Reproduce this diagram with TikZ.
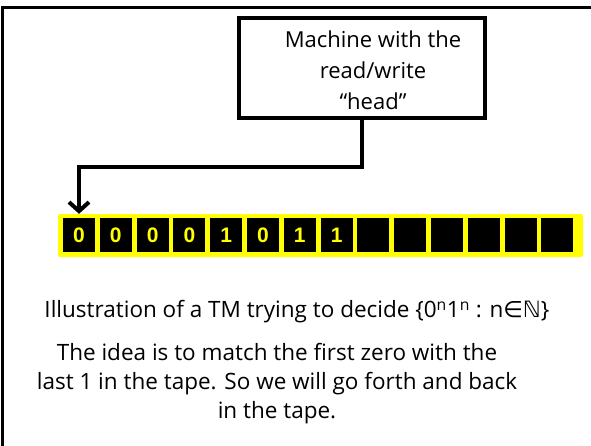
\documentclass[tikz,border=0pt]{standalone}
\usepackage{fontspec}
\setmainfont{Open Sans}
\newfontfamily\digitfont{Liberation Sans}
\newfontfamily\symfont{DejaVu Sans}
\usetikzlibrary{arrows.meta}
\definecolor{tapeyellow}{RGB}{255,255,0}
\tikzset{
  frameline/.style={line width=3pt, line cap=rect},
  machinebox/.style={draw, line width=4pt, minimum width=246pt, minimum height=100pt, inner sep=0pt},
  machinetext/.style={align=center, font=\fontsize{22}{31}\selectfont, inner sep=0pt},
  conn/.style={line width=4pt, -{Straight Barb[length=9pt,width=20pt,line width=4pt]}},
  tapeband/.style={fill=tapeyellow, rounded corners=2pt, minimum width=525pt, minimum height=43pt, inner sep=0pt},
  cell/.style={fill=black, minimum width=32pt, minimum height=34pt, inner sep=0pt,
    text=tapeyellow, font=\digitfont\bfseries\fontsize{21}{21}\selectfont},
  caption/.style={font=\fontsize{22.5}{29}\selectfont, align=center, inner sep=0pt},
}
\begin{document}
\begin{tikzpicture}[x=1pt,y=-1pt]
  \useasboundingbox (0,0) rectangle (591,445);
  % open frame on the left and top
  \draw[frameline] (2.5,445) -- (2.5,7.5) -- (591,7.5);
  % the machine
  \node[machinebox] (machine) at (362,68) {};
  \node[machinetext] (mlabel) at (373,70) {Machine with the\\read/write\\“head”};
  % the tape
  \node[tapeband] (tape) at (320.5,235.5) {};
  \foreach \i/\s in {0/0,1/0,2/0,3/0,4/1,5/0,6/1,7/1,8/,9/,10/,11/,12/,13/} {
    \node[cell] (c\i) at ({79+36.8*\i},235) {\s};
  }
  % head pointing at the first square
  \coordinate (bend) at (362,167);
  \draw[conn] (machine.south) -- (bend) -| (c0 |- tape.north);
  % captions
  \node[caption] (title) at (297,312)
    {Illustration of a TM trying to decide \{0\textsuperscript{n}1\textsuperscript{n} : n{\symfont ∈ℕ}\}};
  \node[caption] (idea) at (277,384)
    {The idea is to match the first zero with the\\last 1 in the tape. So we will go forth and back\\in the tape.};
\end{tikzpicture}
\end{document}
